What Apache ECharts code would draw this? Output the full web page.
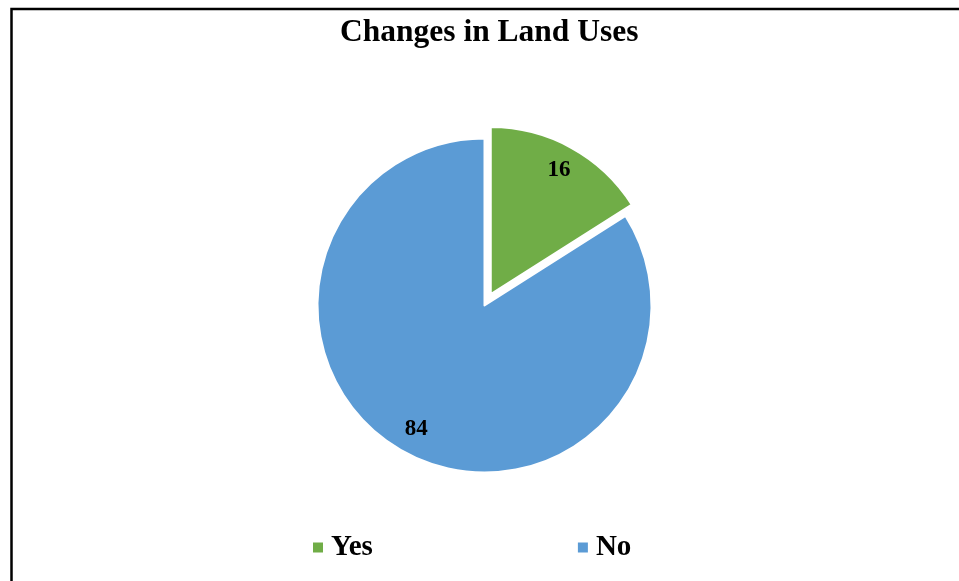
<!DOCTYPE html>
<html>
<head>
<meta charset="utf-8">
<title>Changes in Land Uses</title>
<script src="https://cdn.jsdelivr.net/npm/echarts@6/dist/echarts.min.js"></script>
<style>
  html, body { margin: 0; padding: 0; background: #fff; }
  #chart { width: 959px; height: 581px; }
</style>
</head>
<body>
<div id="chart"></div>
<script>
// Survey answers: has the land use changed?
const categories = ['Yes', 'No'];
const values = [16, 84];
const colors = ['#70AD47', '#5B9BD5'];
const titleText = 'Changes in Land Uses';

const serif = '"Liberation Serif", "Times New Roman", serif';
const center = [484.5, 305.5];
const outerR = 167;
const explode = 13;

const chart = echarts.init(document.getElementById('chart'), null, { renderer: 'canvas' });

chart.setOption({
  backgroundColor: '#ffffff',
  animation: false,
  title: {
    text: titleText,
    left: 335,
    top: 12,
    textStyle: { fontFamily: serif, fontWeight: 'bold', fontSize: 31.5, color: '#000' }
  },
  legend: {
    data: categories,
    left: 313,
    top: 533,
    padding: 0,
    icon: 'rect',
    itemWidth: 10,
    itemHeight: 10,
    itemGap: 205,
    selectedMode: false,
    itemStyle: { borderWidth: 0 },
    textStyle: { fontFamily: serif, fontWeight: 'bold', fontSize: 29, color: '#000', padding: [0, 0, 0, 3] }
  },
  graphic: [{
    type: 'rect',
    left: 9,
    top: 6.5,
    shape: { width: 1200, height: 1000 },
    style: { fill: 'none', stroke: '#000', lineWidth: 2.5 },
    silent: true
  }],
  series: [
    {
      // visible slices, "Yes" pulled out
      type: 'pie',
      center: center,
      radius: [0, outerR],
      startAngle: 90,
      clockwise: true,
      selectedMode: 'single',
      selectedOffset: explode,
      avoidLabelOverlap: false,
      label: { show: false },
      labelLine: { show: false },
      itemStyle: { borderColor: '#fff', borderWidth: 2 },
      emphasis: { disabled: true },
      data: categories.map((name, i) => ({
        name: name,
        value: values[i],
        selected: name === 'Yes',
        itemStyle: { color: colors[i] }
      }))
    },
    {
      // value labels sit in the outer ring of each slice
      type: 'pie',
      silent: true,
      center: center,
      radius: [110, outerR],
      startAngle: 90,
      clockwise: true,
      selectedMode: 'single',
      selectedOffset: explode,
      avoidLabelOverlap: false,
      itemStyle: { color: 'rgba(0,0,0,0)' },
      label: {
        show: true,
        position: 'inside',
        formatter: '{c}',
        fontFamily: serif,
        fontWeight: 'bold',
        fontSize: 23,
        color: '#000'
      },
      labelLine: { show: false },
      emphasis: { disabled: true },
      data: categories.map((name, i) => ({
        name: name,
        value: values[i],
        selected: name === 'Yes'
      }))
    }
  ]
});
</script>
</body>
</html>
